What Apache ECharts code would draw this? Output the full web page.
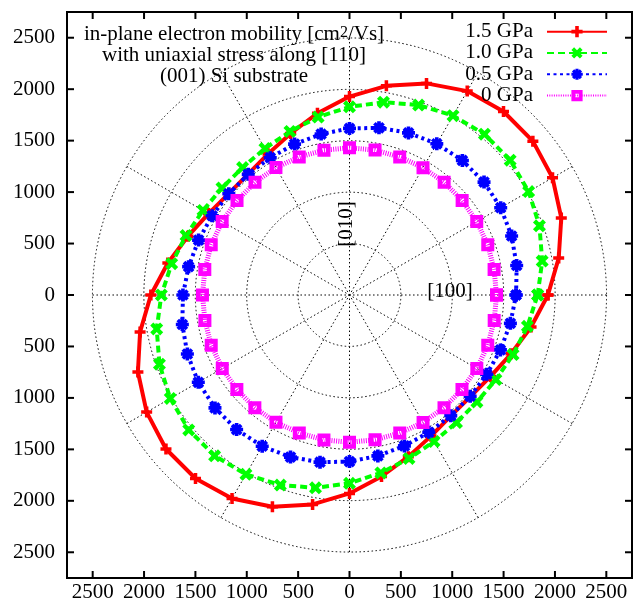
<!DOCTYPE html>
<html><head><meta charset="utf-8">
<script src="https://cdn.jsdelivr.net/npm/echarts@6/dist/echarts.min.js"></script>
<style>html,body{margin:0;padding:0;background:#fff}#c{width:634px;height:610px}</style>
</head><body><div id="c"></div>
<script>
// angle of in-plane direction (degrees, 0 = [100], 90 = [010])
const angles = [0,10,20,30,40,50,60,70,80,90,100,110,120,130,140,150,160,170,180,
  190,200,210,220,230,240,250,260,270,280,290,300,310,320,330,340,350,360];
// mobility [cm^2/Vs]
const mu15 = [1930,2066,2192,2280,2328,2330,2290,2190,2066,1930,1795,1672,1585,1535,1534,1583,1672,1794,
  1932,2068,2190,2278,2330,2330,2285,2192,2068,1930,1792,1673,1585,1534,1536,1584,1672,1793,1930];
const mu10 = [1830,1903,1966,2012,2040,2042,2014,1966,1904,1830,1757,1693,1645,1618,1619,1645,1692,1756,
  1830,1904,1967,2013,2041,2041,2014,1967,1904,1831,1757,1692,1645,1619,1618,1644,1693,1757,1830];
const mu05 = [1620,1651,1678,1698,1708,1708,1698,1678,1651,1620,1589,1562,1542,1532,1532,1542,1562,1589,
  1620,1651,1678,1698,1708,1708,1698,1678,1651,1620,1589,1562,1542,1532,1532,1542,1562,1589,1620];
const mu00 = [1430,1428,1431,1429,1430,1432,1430,1428,1431,1432,1430,1429,1431,1430,1428,1430,1431,1429,
  1430,1428,1431,1429,1430,1432,1430,1428,1431,1432,1430,1429,1431,1430,1428,1430,1431,1429,1430];
const seriesNames = ['1.5 GPa','1.0 GPa','0.5 GPa','0 GPa'];
const tickValues = [-2500,-2000,-1500,-1000,-500,0,500,1000,1500,2000,2500];
const titleLines = ['with uniaxial stress along [110]','(001) Si substrate'];

const FONT = 'Liberation Serif';
const chart = echarts.init(document.getElementById('c'), null, {renderer:'canvas'});

const symPlus = 'path://M3.4,0H6.6V3.4H10V6.6H6.6V10H3.4V6.6H0V3.4H3.4Z';
const symX = 'path://M0,2.4L2.4,0L5,2.6L7.6,0L10,2.4L7.4,5L10,7.6L7.6,10L5,7.4L2.4,10L0,7.6L2.6,5Z';
const symStar = 'path://M3.6,0H6.4V3.6H10V6.4H6.4V10H3.6V6.4H0V3.6H3.6Z M0.5,2.5L2.5,0.5L5,3L7.5,0.5L9.5,2.5L7,5L9.5,7.5L7.5,9.5L5,7L2.5,9.5L0.5,7.5L3,5Z';
const symBox = 'path://M0,0H10V10H0Z M3.5,3.5V6.5H6.5V3.5Z';

function pts(arr){ return arr.map((r,i)=>[r, angles[i]]); }

// frame: data range -2750..2750 on both axes; label grids span -2500..2500
const F = {left:67, right:2, top:12, bottom:32};
const W = 634 - F.left - F.right, H = 610 - F.top - F.bottom;
const cx = F.left + W/2, cy = F.top + H/2;
const rx = W/5500*2500, ry = H/5500*2500;
const TL = 7; // tick length

const lblCommon = {color:'#000', fontFamily:FONT, fontSize:21, formatter:v=>String(Math.abs(v))};
function tAxis(extra){
  return Object.assign({type:'value', min:tickValues[0], max:tickValues[tickValues.length-1], interval:500,
    axisLine:{show:false, onZero:false}, axisTick:{show:false}, splitLine:{show:false}}, extra);
}
const dummy = (g)=>({gridIndex:g, type:'value', min:1, max:2, show:false});

const textGraphics = [
  {type:'text', x:234, y:45, z:5, style:{
    text:'{n|in-plane electron mobility [cm}{s|2}{n|/Vs]}', align:'center', verticalAlign:'bottom',
    fontFamily:FONT, fontSize:21, fill:'#000',
    rich:{n:{fontFamily:FONT, fontSize:21, lineHeight:20, verticalAlign:'bottom', fill:'#000'},
          s:{fontFamily:FONT, fontSize:16, lineHeight:16, padding:[0,0,14,0], verticalAlign:'top', fill:'#000'}}}},
  {type:'text', x:234, y:55, z:5, style:{text:titleLines[0], align:'center', verticalAlign:'middle',
    fontFamily:FONT, fontSize:21, fill:'#000'}},
  {type:'text', x:234, y:76, z:5, style:{text:titleLines[1], align:'center', verticalAlign:'middle',
    fontFamily:FONT, fontSize:21, fill:'#000'}},
  {type:'text', x:450, y:291, z:5, style:{text:'[100]', align:'center', verticalAlign:'middle',
    fontFamily:FONT, fontSize:21, fill:'#000'}},
  {type:'text', x:346, y:224, z:5, rotation:Math.PI/2, style:{text:'[010]', align:'center', verticalAlign:'middle',
    fontFamily:FONT, fontSize:21, fill:'#000'}}
];

const option = {
  animation:false,
  backgroundColor:'#fff',
  grid:[
    {left:F.left, right:F.right, top:F.top, bottom:F.bottom, show:true, borderColor:'#000', borderWidth:2, backgroundColor:'transparent'},
    {left:cx-rx, right:634-(cx+rx), top:F.top, bottom:F.bottom},
    {left:F.left, right:F.right, top:cy-ry, bottom:610-(cy+ry)}
  ],
  xAxis:[
    dummy(0),
    tAxis({gridIndex:1, position:'bottom', axisLabel:Object.assign({margin:4}, lblCommon)}),
    dummy(2)
  ],
  yAxis:[
    dummy(0),
    dummy(1),
    tAxis({gridIndex:2, position:'left', axisLabel:Object.assign({margin:12}, lblCommon)})
  ],
  polar:{center:[cx,cy], radius:(rx+ry)/2},
  angleAxis:{type:'value', min:0, max:360, interval:30, startAngle:0, clockwise:false,
    axisLine:{show:false}, axisTick:{show:false}, axisLabel:{show:false},
    splitLine:{show:true, lineStyle:{color:'#000', width:1, type:[1.5,2.5]}}},
  radiusAxis:{type:'value', min:0, max:2500, interval:500,
    axisLine:{show:false}, axisTick:{show:false}, axisLabel:{show:false},
    splitLine:{show:true, lineStyle:{color:'#000', width:1, type:[1.5,2.5]}}},
  legend:{
    orient:'vertical', align:'right', right:26, top:21, padding:0, itemGap:0,
    itemWidth:60, itemHeight:14,
    textStyle:{fontFamily:FONT, fontSize:21, color:'#000', lineHeight:21.3, padding:[0,9,0,0]},
    data:seriesNames
  },
  graphic:textGraphics,
  series:[
    {name:seriesNames[0], type:'line', coordinateSystem:'polar', data:pts(mu15),
     symbol:symPlus, symbolSize:11, showAllSymbol:true,
     lineStyle:{color:'#ff0000', width:4, type:'solid'}, itemStyle:{color:'#ff0000'}},
    {name:seriesNames[1], type:'line', coordinateSystem:'polar', data:pts(mu10),
     symbol:symX, symbolSize:13, showAllSymbol:true,
     lineStyle:{color:'#00ff00', width:4, type:[7,4]}, itemStyle:{color:'#00ff00'}},
    {name:seriesNames[2], type:'line', coordinateSystem:'polar', data:pts(mu05),
     symbol:symStar, symbolSize:13, showAllSymbol:true,
     lineStyle:{color:'#0000ff', width:4, type:[3,3.5]}, itemStyle:{color:'#0000ff'}},
    {name:seriesNames[3], type:'line', coordinateSystem:'polar', data:pts(mu00),
     symbol:symBox, symbolSize:13, showAllSymbol:true,
     lineStyle:{color:'#ff00ff', width:5, type:[1,1.3]}, itemStyle:{color:'#ff00ff'}}
  ]
};
chart.setOption(option);

// mirrored inward tick marks on all four frame sides, placed through the axes' own scales
const yBot = 610 - F.bottom, yTop = F.top, xLeft = F.left, xRight = 634 - F.right;
const tickGraphics = [];
tickValues.forEach(v=>{
  const px = chart.convertToPixel({xAxisIndex:1}, v);
  const py = chart.convertToPixel({yAxisIndex:2}, v);
  const st = {stroke:'#000', lineWidth:2};
  tickGraphics.push({type:'line', z:10, shape:{x1:px, y1:yBot, x2:px, y2:yBot-TL}, style:st});
  tickGraphics.push({type:'line', z:10, shape:{x1:px, y1:yTop, x2:px, y2:yTop+TL}, style:st});
  tickGraphics.push({type:'line', z:10, shape:{x1:xLeft, y1:py, x2:xLeft+TL, y2:py}, style:st});
  tickGraphics.push({type:'line', z:10, shape:{x1:xRight, y1:py, x2:xRight-TL, y2:py}, style:st});
});
chart.setOption({graphic: textGraphics.concat(tickGraphics)});
</script></body></html>
